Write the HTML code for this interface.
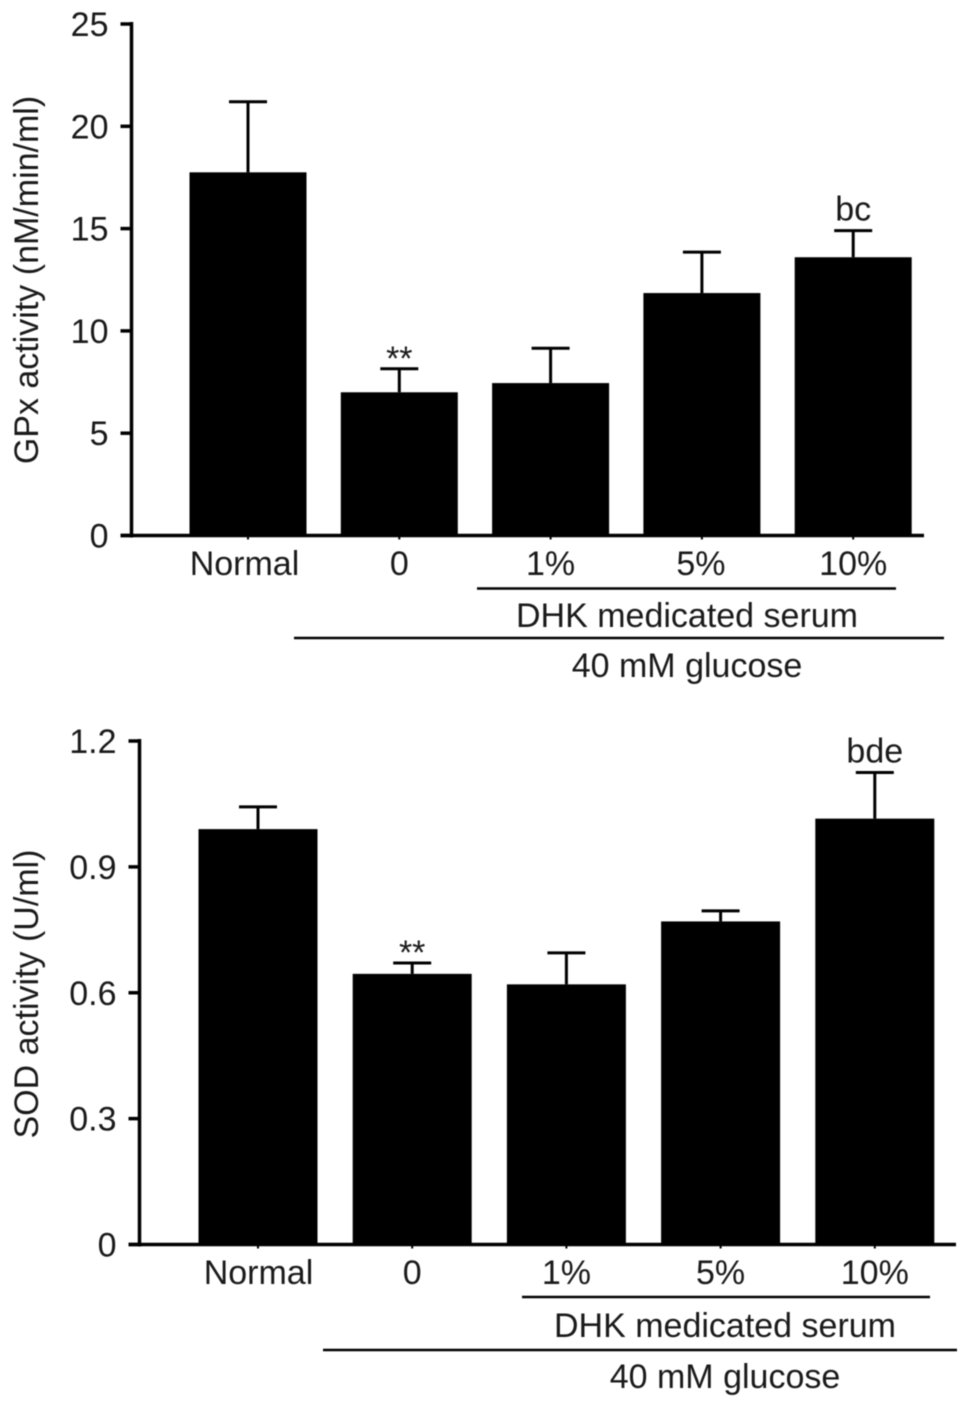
<!DOCTYPE html>
<html>
<head>
<meta charset="utf-8">
<style>
html,body{margin:0;padding:0;background:#fff;}
svg{display:block;filter:blur(0.4px);}
text{font-family:"Liberation Sans",Arial,sans-serif;fill:#1a1a1a;}
</style>
</head>
<body>
<svg id="chart" width="969" height="1408" viewBox="0 0 969 1408" xmlns="http://www.w3.org/2000/svg"></svg>
<script>
const categories = ["Normal", "0", "1%", "5%", "10%"];
const gpxValues = [17.75, 7.0, 7.45, 11.85, 13.6];
const gpxErrors = [3.45, 1.15, 1.7, 2.0, 1.3];
const gpxTicks = [0, 5, 10, 15, 20, 25];
const gpxNotes = ["", "**", "", "", "bc"];
const sodValues = [0.99, 0.645, 0.62, 0.77, 1.015];
const sodErrors = [0.053, 0.026, 0.075, 0.025, 0.11];
const sodTicks = [0, 0.3, 0.6, 0.9, 1.2];
const sodTickLabels = ["0", "0.3", "0.6", "0.9", "1.2"];
const sodNotes = ["", "**", "", "", "bde"];

const svg = document.getElementById('chart');
const NS = 'http://www.w3.org/2000/svg';

function add(tag, attrs, name, content) {
  const el = document.createElementNS(NS, tag);
  for (const k in attrs) el.setAttribute(k, attrs[k]);
  
  
  if (content !== undefined) el.textContent = content;
  svg.appendChild(el);
  return el;
}

function drawPanel(p) {
  const y = v => p.y0 - (v / p.max) * (p.y0 - p.yTop);
  const x = i => p.x0 + i * p.step;
  const prefix = p.prefix;
  const fs = 34;

  categories.forEach((c, i) => {
    const cx = x(i);
    const top = y(p.values[i]);
    const errTop = y(p.values[i] + p.errors[i]);
    add('line', {x1: cx, x2: cx, y1: top, y2: errTop, stroke: '#000', 'stroke-width': 3}, prefix + '-error-stem-' + i);
    add('line', {x1: cx - p.cap, x2: cx + p.cap, y1: errTop, y2: errTop, stroke: '#000', 'stroke-width': 3}, prefix + '-error-cap-' + i);
    add('rect', {x: cx - p.barW / 2, y: top, width: p.barW, height: p.y0 - top, fill: '#000'}, prefix + '-bar-' + i);
    add('line', {x1: cx, x2: cx, y1: p.y0, y2: p.y0 + 4, stroke: '#000', 'stroke-width': 2}, prefix + '-x-tick-' + i);
    add('text', {x: cx + p.labelDx[i], y: p.y0 + 39.5, 'font-size': fs, 'text-anchor': 'middle'}, prefix + '-category-label-' + i, c);
    if (p.notes[i]) {
      const star = p.notes[i] === '**';
      add('text', {x: cx, y: errTop + (star ? 1 : -10), 'font-size': fs, 'text-anchor': 'middle'}, prefix + '-significance-' + i, p.notes[i]);
    }
  });

  add('line', {x1: p.axisX, x2: p.axisX, y1: p.yTop - 2, y2: p.y0 + 2, stroke: '#000', 'stroke-width': 3.5}, prefix + '-y-axis');
  add('line', {x1: p.axisX - 11, x2: p.axisEnd, y1: p.y0, y2: p.y0, stroke: '#000', 'stroke-width': 3.5}, prefix + '-x-axis');

  p.ticks.forEach((t, i) => {
    add('line', {x1: p.axisX - 11, x2: p.axisX, y1: y(t), y2: y(t), stroke: '#000', 'stroke-width': 3.5}, prefix + '-y-tick-' + i);
    add('text', {x: p.axisX - 23, y: y(t) + 12, 'font-size': fs, 'text-anchor': 'end'}, prefix + '-y-tick-label-' + i, p.tickLabels[i]);
  });

  add('text', {x: 0, y: 0, 'font-size': fs, 'text-anchor': 'middle', transform: 'translate(' + p.titleX + ' ' + p.titleY + ') rotate(-90)'}, prefix + '-y-axis-title', p.title);

  add('line', {x1: p.line1[0], x2: p.line1[1], y1: p.line1Y, y2: p.line1Y, stroke: '#000', 'stroke-width': 2.5}, prefix + '-dhk-bracket');
  add('text', {x: p.line1Text, y: p.line1TextY, 'font-size': fs, 'text-anchor': 'middle'}, prefix + '-dhk-label', 'DHK medicated serum');
  add('line', {x1: p.line2[0], x2: p.line2[1], y1: p.line2Y, y2: p.line2Y, stroke: '#000', 'stroke-width': 2.5}, prefix + '-glucose-bracket');
  add('text', {x: p.line2Text, y: p.line2TextY, 'font-size': fs, 'text-anchor': 'middle'}, prefix + '-glucose-label', '40 mM glucose');
}

drawPanel({
  prefix: 'gpx', values: gpxValues, errors: gpxErrors, notes: gpxNotes,
  ticks: gpxTicks, tickLabels: gpxTicks.map(String), max: 25,
  y0: 535.5, yTop: 24, axisX: 131.5, axisEnd: 924,
  x0: 248, step: 151.3, barW: 117, cap: 19, labelDx: [-3.5, 0, 0, -1, 0],
  title: 'GPx activity (nM/min/ml)', titleX: 38, titleY: 280,
  line1: [477, 896], line1Y: 588.5, line1Text: 687, line1TextY: 627,
  line2: [294, 944], line2Y: 638, line2Text: 687, line2TextY: 677
});

drawPanel({
  prefix: 'sod', values: sodValues, errors: sodErrors, notes: sodNotes,
  ticks: sodTicks, tickLabels: sodTickLabels, max: 1.2,
  y0: 1244.5, yTop: 741, axisX: 139.5, axisEnd: 956,
  x0: 258, step: 154.2, barW: 119, cap: 19, labelDx: [0.5, 0, 0, 0, 0],
  title: 'SOD activity (U/ml)', titleX: 38, titleY: 994,
  line1: [522, 930], line1Y: 1297, line1Text: 725, line1TextY: 1337,
  line2: [323, 957], line2Y: 1350, line2Text: 725, line2TextY: 1388
});
</script>
</body>
</html>
